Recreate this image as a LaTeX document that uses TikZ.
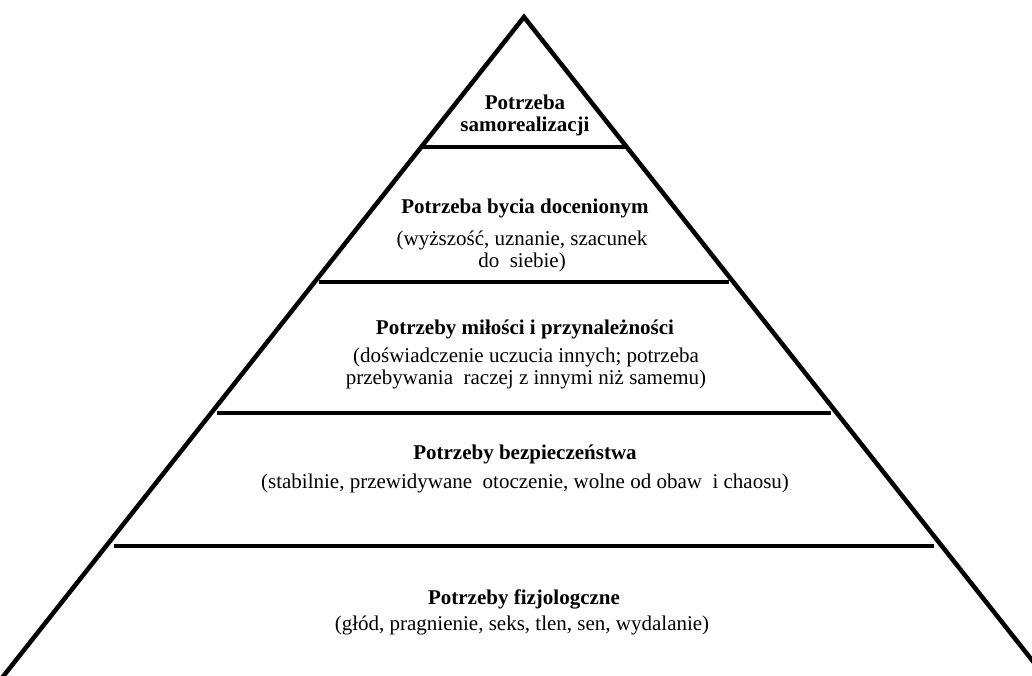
\documentclass[tikz,border=0pt]{standalone}
\usepackage{fontspec}
\setmainfont{Liberation Serif}
\newfontfamily\tnr{Liberation Serif}
\begin{document}
\begin{tikzpicture}[x=1pt,y=-1pt,
  edge/.style={line width=4.5pt,line join=miter,line cap=butt},
  ttl/.style={font=\tnr\fontsize{21}{22}\selectfont\bfseries,align=center,inner sep=0pt},
  dsc/.style={font=\tnr\fontsize{21}{22}\selectfont,align=center,inner sep=0pt}]
\useasboundingbox (0,0) rectangle (1032,675);
\clip (0,0) rectangle (1032,675);
\fill[white] (0,0) rectangle (1032,675);
% slope dx/dy = 0.775
\coordinate (apex) at (524,17);
\coordinate (bl) at (-7.6,690);
\coordinate (br) at (1055.6,690);
\coordinate (l1) at (423,147);  \coordinate (r1) at (625,147);
\coordinate (l2) at (319,282);  \coordinate (r2) at (729,282);
\coordinate (l3) at (217,413);  \coordinate (r3) at (831,413);
\coordinate (l4) at (114,546);  \coordinate (r4) at (934,546);
\draw[edge] (bl) -- (apex) -- (br);
\draw[edge] (l1) -- (r1);
\draw[edge] (l2) -- (r2);
\draw[edge] (l3) -- (r3);
\draw[edge] (l4) -- (r4);
% level 1
\node[ttl] (t1) at (525,115) {Potrzeba\\samorealizacji};
% level 2
\node[ttl] (t2) at (525,208) {Potrzeba bycia docenionym};
\node[dsc] (d2) at (522,251) {(wyższość, uznanie, szacunek\\do\ \ siebie)};
% level 3
\node[ttl] (t3) at (525,329) {Potrzeby miłości i przynależności};
\node[dsc] (d3) at (526,368) {(doświadczenie uczucia innych; potrzeba\\przebywania\ \ raczej z innymi niż samemu)};
% level 4
\node[ttl] (t4) at (525,454) {Potrzeby bezpieczeństwa};
\node[dsc] (d4) at (525,483) {(stabilnie, przewidywane\ \ otoczenie, wolne od obaw\ \ i chaosu)};
% level 5
\node[ttl] (t5) at (524,599) {Potrzeby fizjologczne};
\node[dsc] (d5) at (522,625) {(głód, pragnienie, seks, tlen, sen, wydalanie)};
\end{tikzpicture}
\end{document}
